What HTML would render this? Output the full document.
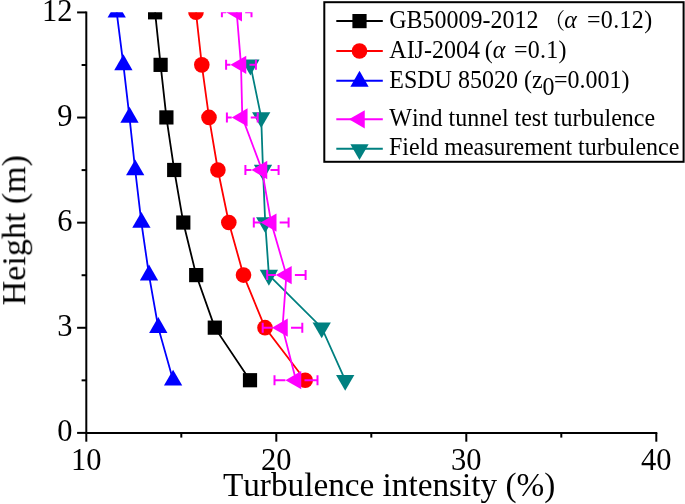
<!DOCTYPE html>
<html><head><meta charset="utf-8"><title>Turbulence intensity</title>
<style>html,body{margin:0;padding:0;background:#fff;}svg{display:block;font-family:"Liberation Serif","Noto Serif CJK SC",serif;fill:#000;font-kerning:none;}</style></head><body>
<div style="will-change:transform;width:685px;height:504px">
<svg width="685" height="504" viewBox="0 0 685 504">
<rect width="685" height="504" fill="#fff"/>
<defs><clipPath id="c"><rect x="86" y="12.2" width="600" height="421"/></clipPath></defs>
<g clip-path="url(#c)">
<polyline points="155.1,12.3 160.6,64.86 166.4,117.42 174.2,169.98 183.3,222.54 196.2,275.1 214.8,327.66 250,380.22" fill="none" stroke="#000" stroke-width="1.8"/>
<rect x="148" y="5.2" width="14.2" height="14.2" fill="#000"/>
<rect x="153.5" y="57.76" width="14.2" height="14.2" fill="#000"/>
<rect x="159.3" y="110.32" width="14.2" height="14.2" fill="#000"/>
<rect x="167.1" y="162.88" width="14.2" height="14.2" fill="#000"/>
<rect x="176.2" y="215.44" width="14.2" height="14.2" fill="#000"/>
<rect x="189.1" y="268" width="14.2" height="14.2" fill="#000"/>
<rect x="207.7" y="320.56" width="14.2" height="14.2" fill="#000"/>
<rect x="242.9" y="373.12" width="14.2" height="14.2" fill="#000"/>
<polyline points="196,12.3 201.8,64.86 209,117.42 217.9,169.98 228.8,222.54 243.5,275.1 265,327.66 305.2,380.22" fill="none" stroke="#ff0000" stroke-width="1.8"/>
<circle cx="196" cy="12.3" r="7.8" fill="#ff0000"/>
<circle cx="201.8" cy="64.86" r="7.8" fill="#ff0000"/>
<circle cx="209" cy="117.42" r="7.8" fill="#ff0000"/>
<circle cx="217.9" cy="169.98" r="7.8" fill="#ff0000"/>
<circle cx="228.8" cy="222.54" r="7.8" fill="#ff0000"/>
<circle cx="243.5" cy="275.1" r="7.8" fill="#ff0000"/>
<circle cx="265" cy="327.66" r="7.8" fill="#ff0000"/>
<circle cx="305.2" cy="380.22" r="7.8" fill="#ff0000"/>
<polyline points="116.7,12.3 123.4,64.86 129.5,117.42 135.2,169.98 141.4,222.54 149,275.1 158.3,327.66 173.1,380.22" fill="none" stroke="#0000ff" stroke-width="1.8"/>
<polygon points="116.7,1.73 107.55,17.58 125.85,17.58" fill="#0000ff"/>
<polygon points="123.4,54.29 114.25,70.14 132.55,70.14" fill="#0000ff"/>
<polygon points="129.5,106.85 120.35,122.7 138.65,122.7" fill="#0000ff"/>
<polygon points="135.2,159.41 126.05,175.26 144.35,175.26" fill="#0000ff"/>
<polygon points="141.4,211.97 132.25,227.82 150.55,227.82" fill="#0000ff"/>
<polygon points="149,264.53 139.85,280.38 158.15,280.38" fill="#0000ff"/>
<polygon points="158.3,317.09 149.15,332.94 167.45,332.94" fill="#0000ff"/>
<polygon points="173.1,369.65 163.95,385.5 182.25,385.5" fill="#0000ff"/>
<polyline points="250.4,64.86 261.2,117.42 263,169.98 265.2,222.54 268.9,275.1 321.7,327.66 345.2,380.22" fill="none" stroke="#008080" stroke-width="1.8"/>
<polygon points="250.4,75.43 241.25,59.58 259.55,59.58" fill="#008080"/>
<polygon points="261.2,127.99 252.05,112.14 270.35,112.14" fill="#008080"/>
<polygon points="263,180.55 253.85,164.7 272.15,164.7" fill="#008080"/>
<polygon points="265.2,233.11 256.05,217.26 274.35,217.26" fill="#008080"/>
<polygon points="268.9,285.67 259.75,269.82 278.05,269.82" fill="#008080"/>
<polygon points="321.7,338.23 312.55,322.38 330.85,322.38" fill="#008080"/>
<polygon points="345.2,390.79 336.05,374.94 354.35,374.94" fill="#008080"/>
<polyline points="236.7,12.3 241,64.86 242.3,117.42 262,169.98 271.2,222.54 286.4,275.1 282.5,327.66 296,380.22" fill="none" stroke="#ff00ff" stroke-width="1.8"/>
<path d="M221.9 12.3H226.13M245.18 12.3H251.5M221.9 7.3V17.3M251.5 7.3V17.3" stroke="#ff00ff" stroke-width="2" fill="none"/>
<polygon points="226.13,12.3 241.98,3.15 241.98,21.45" fill="#ff00ff"/>
<path d="M226.1 64.86H230.43M249.48 64.86H255.9M226.1 59.86V69.86M255.9 59.86V69.86" stroke="#ff00ff" stroke-width="2" fill="none"/>
<polygon points="230.43,64.86 246.28,55.71 246.28,74.01" fill="#ff00ff"/>
<path d="M226.9 117.42H231.73M250.78 117.42H257.7M226.9 112.42V122.42M257.7 112.42V122.42" stroke="#ff00ff" stroke-width="2" fill="none"/>
<polygon points="231.73,117.42 247.58,108.27 247.58,126.57" fill="#ff00ff"/>
<path d="M245.4 169.98H251.43M270.48 169.98H278.6M245.4 164.98V174.98M278.6 164.98V174.98" stroke="#ff00ff" stroke-width="2" fill="none"/>
<polygon points="251.43,169.98 267.28,160.83 267.28,179.13" fill="#ff00ff"/>
<path d="M253.8 222.54H260.63M279.68 222.54H288.6M253.8 217.54V227.54M288.6 217.54V227.54" stroke="#ff00ff" stroke-width="2" fill="none"/>
<polygon points="260.63,222.54 276.48,213.39 276.48,231.69" fill="#ff00ff"/>
<path d="M267.2 275.1H275.83M294.88 275.1H305.6M267.2 270.1V280.1M305.6 270.1V280.1" stroke="#ff00ff" stroke-width="2" fill="none"/>
<polygon points="275.83,275.1 291.68,265.95 291.68,284.25" fill="#ff00ff"/>
<path d="M262.7 327.66H271.93M290.98 327.66H302.3M262.7 322.66V332.66M302.3 322.66V332.66" stroke="#ff00ff" stroke-width="2" fill="none"/>
<polygon points="271.93,327.66 287.78,318.51 287.78,336.81" fill="#ff00ff"/>
<path d="M274.5 380.22H285.43M304.48 380.22H317.5M274.5 375.22V385.22M317.5 375.22V385.22" stroke="#ff00ff" stroke-width="2" fill="none"/>
<polygon points="285.43,380.22 301.28,371.07 301.28,389.37" fill="#ff00ff"/>
</g>
<g stroke="#000" stroke-width="2" fill="none">
<path d="M86.3 11.42V433.9"/>
<path d="M85.3 432.9H657.3"/>
<path d="M77.1 432.9H86.3"/>
<path d="M77.1 327.78H86.3"/>
<path d="M77.1 222.66H86.3"/>
<path d="M77.1 117.54H86.3"/>
<path d="M77.1 12.42H86.3"/>
<path d="M81.6 380.34H86.3"/>
<path d="M81.6 275.22H86.3"/>
<path d="M81.6 170.1H86.3"/>
<path d="M81.6 64.98H86.3"/>
<path d="M86.3 432.9V441.7"/>
<path d="M276.3 432.9V441.7"/>
<path d="M466.3 432.9V441.7"/>
<path d="M656.3 432.9V441.7"/>
<path d="M181.3 432.9V437.6"/>
<path d="M371.3 432.9V437.6"/>
<path d="M561.3 432.9V437.6"/>
</g>
<g style="filter:grayscale(1)">
<g font-size="30.5">
<text x="72.4" y="441.1" text-anchor="end">0</text>
<text x="72.4" y="335.98" text-anchor="end">3</text>
<text x="72.4" y="230.86" text-anchor="end">6</text>
<text x="72.4" y="125.74" text-anchor="end">9</text>
<text x="72.4" y="20.62" text-anchor="end">12</text>
<text x="86.3" y="469.7" text-anchor="middle">10</text>
<text x="276.3" y="469.7" text-anchor="middle">20</text>
<text x="466.3" y="469.7" text-anchor="middle">30</text>
<text x="656.3" y="469.7" text-anchor="middle">40</text>
</g>
<text x="222.9" y="496.3" font-size="33.25">Turbulence intensity (%)</text>
<text transform="translate(25.2 305.4) rotate(-90)" font-size="34.1">Height (m)</text>
</g>
<rect x="324.3" y="2.2" width="359.3" height="159.6" fill="#fff" stroke="#000" stroke-width="2"/>
<path d="M336.3 21.1H382.8" stroke="#000" stroke-width="2"/>
<path d="M336.3 51H382.8" stroke="#ff0000" stroke-width="2"/>
<path d="M336.3 80.8H382.8" stroke="#0000ff" stroke-width="2"/>
<path d="M336.3 119.3H382.8" stroke="#ff00ff" stroke-width="2"/>
<path d="M336.3 148.7H382.8" stroke="#008080" stroke-width="2"/>
<rect x="352.4" y="14" width="14.2" height="14.2" fill="#000"/>
<circle cx="359.5" cy="51" r="7.8" fill="#ff0000"/>
<polygon points="359.5,70.83 350.35,86.68 368.65,86.68" fill="#0000ff"/>
<polygon points="348.93,119.3 364.78,110.15 364.78,128.45" fill="#ff00ff"/>
<polygon points="359.5,160.07 350.35,144.22 368.65,144.22" fill="#008080"/>
<g style="filter:grayscale(1)">
<g font-size="24">
<text transform="translate(389.2 28.3) scale(1 1.08)">GB50009-2012 <tspan font-size="20.5" dy="-0.5">（</tspan><tspan font-style="italic" dx="-0.7" dy="0.5">α</tspan><tspan dx="3.7" letter-spacing="0.35"> =0.12)</tspan></text>
<text transform="translate(389.3 57.9) scale(1 1.08)">AIJ-2004 <tspan dx="-1.2">(</tspan><tspan font-style="italic">α</tspan><tspan dx="2.5" letter-spacing="0.25"> =0.1)</tspan></text>
<text transform="translate(389.3 87.9) scale(1 1.08)">ESDU 85020 (z<tspan dy="6.5" font-size="24">0</tspan><tspan dy="-6.5" dx="-0.5">=0.001)</tspan></text>
<text transform="translate(389.3 125.7) scale(1 1.08)">Wind tunnel test turbulence</text>
<text transform="translate(388.9 155.3) scale(1 1.08)">Field measurement turbulence</text>
</g>
</g>
</svg></div></body></html>
